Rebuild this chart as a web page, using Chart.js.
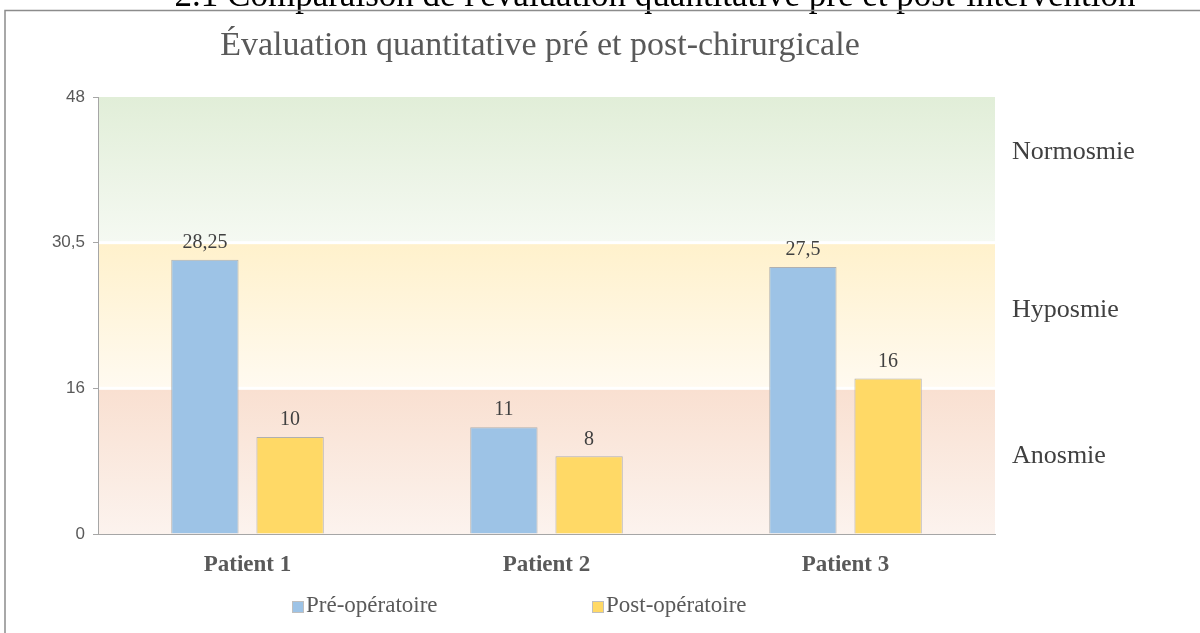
<!DOCTYPE html>
<html>
<head>
<meta charset="utf-8">
<script src="https://cdn.jsdelivr.net/npm/chart.js@4.4.0/dist/chart.umd.min.js"></script>
<style>
  html, body { margin: 0; padding: 0; background: #fff; }
  #wrap { width: 1200px; height: 633px; position: relative; }
</style>
</head>
<body>
<div id="wrap"><canvas id="myChart" width="1200" height="633"></canvas></div>
<script>
// Données
const patients = ['Patient 1', 'Patient 2', 'Patient 3'];
const preOp = [28.25, 11, 27.5];
const postOp = [10, 8, 16];
const seriesNames = ['Pré-opératoire', 'Post-opératoire'];
const yTickLabels = ['0', '16', '30,5', '48'];
// zones (valeurs sur l'axe)
const zoneNames = ['Anosmie', 'Hyposmie', 'Normosmie'];
const zoneBounds = [0, 15, 30, 45];
const zoneLabelAt = [8, 23, 39.3];

const serif = '"Liberation Serif", "Times New Roman", serif';
const grisTexte = '#595959';

const decor = {
  id: 'decor',
  beforeDraw(chart) {
    const ctx = chart.ctx;
    const y = chart.scales.y;
    const area = chart.chartArea;
    ctx.save();
    // titre coupé de la page
    ctx.fillStyle = '#000';
    ctx.font = '35px ' + serif;
    ctx.textAlign = 'center';
    ctx.textBaseline = 'alphabetic';
    ctx.fillText("2.1 Comparaison de l'évaluation quantitative pré et post-intervention", 655, 6);
    // cadre
    ctx.strokeStyle = '#8c8c8c';
    ctx.lineWidth = 1.5;
    ctx.strokeRect(5, 10.5, 1210, 700);
    // bandes de fond
    const couleurs = [
      ['#f9e0d1', '#fcf3ee'],
      ['#fff1cc', '#fffaf0'],
      ['#e1eed8', '#f5f9f2']
    ];
    for (let i = 0; i < 3; i++) {
      const top = y.getPixelForValue(zoneBounds[i + 1]) + (i < 2 ? 1.5 : 0);
      const bot = y.getPixelForValue(zoneBounds[i]) - (i > 0 ? 1.5 : 0);
      const g = ctx.createLinearGradient(0, top, 0, bot);
      g.addColorStop(0, couleurs[i][0]);
      g.addColorStop(1, couleurs[i][1]);
      ctx.fillStyle = g;
      ctx.fillRect(area.left, top, area.right - area.left, bot - top);
    }
    ctx.restore();
  },
  afterDraw(chart) {
    const ctx = chart.ctx;
    const y = chart.scales.y;
    ctx.save();
    // titre
    ctx.fillStyle = grisTexte;
    ctx.font = '34px ' + serif;
    ctx.textAlign = 'center';
    ctx.textBaseline = 'middle';
    ctx.fillText('Évaluation quantitative pré et post-chirurgicale', 540, 46);
    // libellés des zones
    ctx.fillStyle = '#404040';
    ctx.font = '26px ' + serif;
    ctx.textAlign = 'left';
    zoneNames.forEach((n, i) => {
      ctx.fillText(n, chart.chartArea.right + 17, y.getPixelForValue(zoneLabelAt[i]));
    });
    // étiquettes de valeurs
    ctx.font = '20px ' + serif;
    ctx.textAlign = 'center';
    ctx.textBaseline = 'bottom';
    chart.data.datasets.forEach((ds, di) => {
      chart.getDatasetMeta(di).data.forEach((bar, i) => {
        ctx.fillText(String(ds.data[i]).replace('.', ','), bar.x, bar.y - 7);
      });
    });
    // légende
    const legX = [292, 592];
    ctx.font = '23px ' + serif;
    ctx.textAlign = 'left';
    ctx.textBaseline = 'middle';
    chart.data.datasets.forEach((ds, di) => {
      ctx.fillStyle = ds.backgroundColor;
      ctx.strokeStyle = '#bfbfbf';
      ctx.lineWidth = 1;
      ctx.fillRect(legX[di], 601, 12, 12);
      ctx.strokeRect(legX[di] + 0.5, 601.5, 11, 11);
      ctx.fillStyle = grisTexte;
      ctx.fillText(ds.label, legX[di] + 14, 606);
    });
    ctx.restore();
  }
};

var ctx = document.getElementById('myChart').getContext('2d');

var myChart = new Chart(ctx, {
  type: 'bar',
  data: {
    labels: patients,
    datasets: [{
      label: seriesNames[0],
      data: preOp,
      backgroundColor: '#9dc3e6',
      borderColor: '#b0b0b0',
      borderWidth: 1
    }, {
      label: seriesNames[1],
      data: postOp,
      backgroundColor: '#ffd966',
      borderColor: '#b0b0b0',
      borderWidth: 1
    }]
  },
  options: {
    responsive: false,
    animation: false,
    layout: { padding: { left: 0, right: 205, top: 97, bottom: 54 } },
    categoryPercentage: 0.57,
    barPercentage: 0.79,
    plugins: {
      legend: { display: false },
      title: { display: false },
      tooltip: { enabled: false }
    },
    scales: {
      x: {
        grid: { display: false },
        border: { color: '#a6a6a6', width: 1 },
        ticks: {
          color: grisTexte,
          padding: 9,
          font: { family: serif, size: 23, weight: 'bold' }
        },
        afterFit(scale) { scale.height = 45; }
      },
      y: {
        min: 0,
        max: 45,
        grid: { drawOnChartArea: false, drawTicks: true, tickLength: 5, color: '#a6a6a6' },
        border: { color: '#a6a6a6', width: 1 },
        ticks: {
          stepSize: 15,
          padding: 8,
          color: grisTexte,
          font: { family: '"Liberation Sans", Arial, sans-serif', size: 17 },
          callback: (v, i) => yTickLabels[i]
        },
        afterFit(scale) { scale.width = 98; }
      }
    }
  },
  plugins: [decor]
});
</script>
</body>
</html>
